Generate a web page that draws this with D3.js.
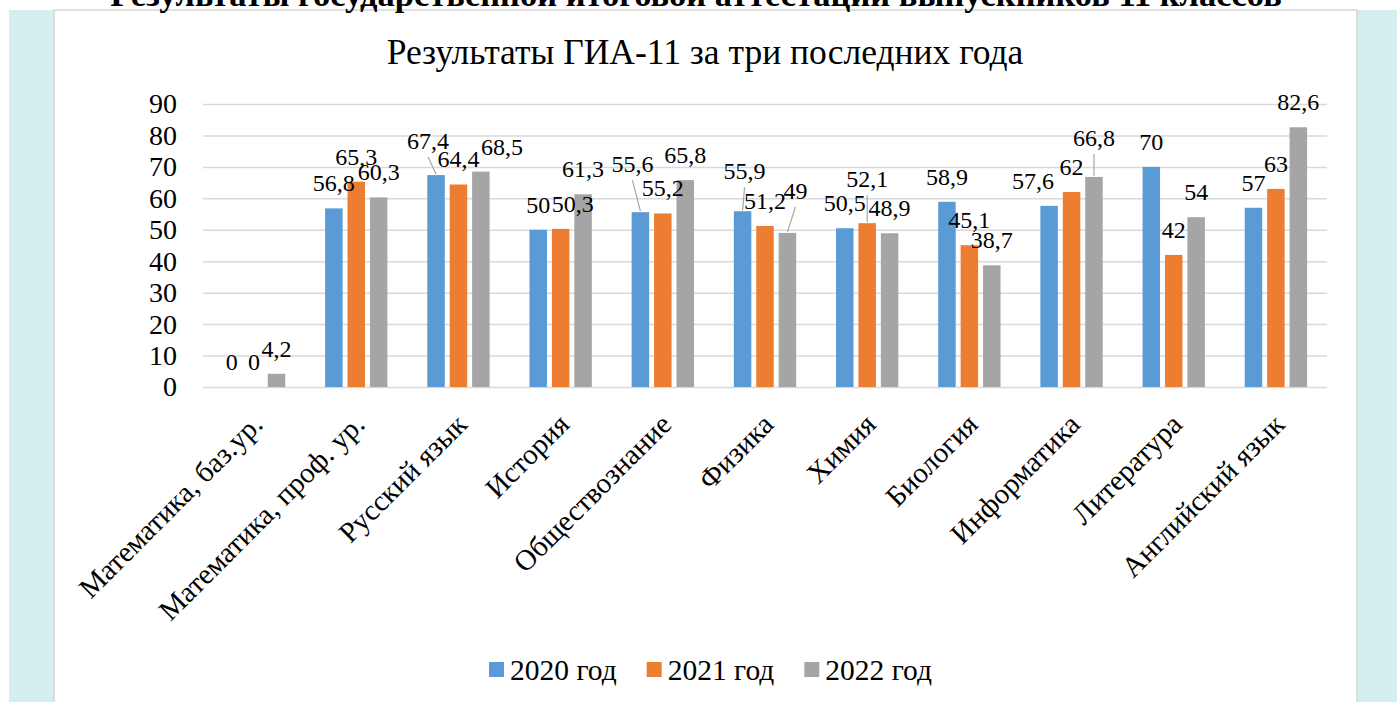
<!DOCTYPE html>
<html>
<head>
<meta charset="utf-8">
<script src="https://cdn.jsdelivr.net/npm/d3@7/dist/d3.min.js"></script>
<style>
  body { margin: 0; background: #fff; }
  svg, svg text { font-family: "Liberation Serif", "DejaVu Serif", serif; }
</style>
</head>
<body>
<div id="chart"></div>
<script>
const categories = ['Математика, баз.ур.', 'Математика, проф. ур.', 'Русский язык', 'История',
  'Обществознание', 'Физика', 'Химия', 'Биология', 'Информатика', 'Литература', 'Английский язык'];
const years = ['2020 год', '2021 год', '2022 год'];
const values2020 = [0, 56.8, 67.4, 50, 55.6, 55.9, 50.5, 58.9, 57.6, 70, 57];
const values2021 = [0, 65.3, 64.4, 50.3, 55.2, 51.2, 52.1, 45.1, 62, 42, 63];
const values2022 = [4.2, 60.3, 68.5, 61.3, 65.8, 49, 48.9, 38.7, 66.8, 54, 82.6];
const yTicks = [0, 10, 20, 30, 40, 50, 60, 70, 80, 90];
const colors = ['#5b9bd5', '#ed7d31', '#a5a5a5'];

// labels that were dragged in the original: [category, series, dx, dy, leader line]
const labelMoves = [
  [2, 0, -8, -9, true], [2, 2, 21, 0, false], [3, 1, 12, 0, false],
  [4, 0, -8, -23, true], [5, 0, 2, -15, true], [5, 2, 8, -17, true],
  [6, 1, 0, -19, true], [8, 0, -16, 0, false], [8, 2, 0, -14, true]
];

let width = 1397;
let height = 702;
let plot = { left: 203, right: 1327, top: 104, bottom: 387 };
let serif = '"Liberation Serif", "DejaVu Serif", serif';

let series = [values2020, values2021, values2022];
let rows = [];
categories.forEach((c, i) => {
  series.forEach((vals, s) => rows.push({ cat: c, i: i, s: s, value: vals[i] }));
});

let fmt = v => String(v).replace('.', ',');

let svg = d3.select('#chart')
  .append('svg')
  .attr('width', width)
  .attr('height', height)
  .style('font-family', serif);

// page frame
svg.append('rect').attr('x', 9).attr('y', 10).attr('width', width - 9).attr('height', height - 10)
  .style('fill', '#d4efee');
svg.append('rect').attr('x', 54).attr('y', 10).attr('width', 1303).attr('height', height)
  .style('fill', '#fff').style('stroke', '#d6d6d6').style('stroke-width', 1.5);

svg.append('text')
  .attr('x', 696).attr('y', 6)
  .attr('text-anchor', 'middle')
  .style('font-size', '34.5px').style('font-weight', 'bold')
  .text('Результаты государственной итоговой аттестации выпускников 11 классов');

svg.append('text')
  .attr('x', 705).attr('y', 64)
  .attr('text-anchor', 'middle')
  .style('font-size', '35.5px')
  .text('Результаты ГИА-11 за три последних года');

let x0 = d3.scaleBand()
  .domain(categories)
  .range([plot.left, plot.right])
  .paddingInner(0.39)
  .paddingOuter(0.195);

let x1 = d3.scaleBand()
  .domain([0, 1, 2])
  .range([0, x0.bandwidth()])
  .paddingInner(0.22);

let y = d3.scaleLinear()
  .domain([0, 90])
  .range([plot.bottom, plot.top]);

// grid + y labels
let yAxis = svg.append('g')
  .attr('transform', 'translate(' + plot.left + ',0)')
  .call(d3.axisLeft(y).tickValues(yTicks).tickSize(-(plot.right - plot.left)).tickPadding(26));
yAxis.attr('font-family', null).attr('font-size', null);
yAxis.select('.domain').remove();
yAxis.selectAll('line').style('stroke', '#d9d9d9').style('stroke-width', 1.5);
yAxis.selectAll('text')
  .style('font-size', '28px')
  .style('font-family', serif)
  .style('fill', '#000');

let barX = d => x0(d.cat) + x1(d.s);
let barMid = d => barX(d) + x1.bandwidth() / 2;

svg.selectAll('rect.bar')
  .data(rows)
  .enter()
  .append('rect')
  .attr('class', 'bar')
  .attr('x', barX)
  .attr('y', d => y(d.value))
  .attr('width', x1.bandwidth())
  .attr('height', d => y(0) - y(d.value))
  .style('fill', d => colors[d.s]);

// data labels
let moveOf = d => labelMoves.find(m => m[0] === d.i && m[1] === d.s) || [d.i, d.s, 0, 0, false];
let labelX = d => barMid(d) + moveOf(d)[2];
let labelCy = d => y(d.value) - 25 + moveOf(d)[3];

svg.selectAll('line.leader')
  .data(rows.filter(d => moveOf(d)[4]))
  .enter()
  .append('line')
  .attr('class', 'leader')
  .attr('x1', labelX)
  .attr('y1', d => labelCy(d) + 16)
  .attr('x2', barMid)
  .attr('y2', d => y(d.value) - 1)
  .style('stroke', '#a6a6a6')
  .style('stroke-width', 1.2);

svg.selectAll('text.value')
  .data(rows)
  .enter()
  .append('text')
  .attr('class', 'value')
  .attr('x', labelX)
  .attr('y', d => labelCy(d) + 8)
  .attr('text-anchor', 'middle')
  .style('font-size', '24px')
  .text(d => fmt(d.value));

// category labels
svg.selectAll('text.cat')
  .data(categories)
  .enter()
  .append('text')
  .attr('class', 'cat')
  .attr('transform', c => 'translate(' + (x0(c) + x0.bandwidth() / 2 + 3) + ',419) rotate(-45)')
  .attr('text-anchor', 'end')
  .attr('dy', '0.35em')
  .style('font-size', '29px')
  .text(c => c);

// legend
let legend = svg.append('g');
let offset = 0;
years.forEach((name, s) => {
  let item = legend.append('g').attr('transform', 'translate(' + offset + ',0)');
  item.append('rect')
    .attr('x', 0).attr('y', 662)
    .attr('width', 15).attr('height', 15)
    .style('fill', colors[s]);
  let t = item.append('text')
    .attr('x', 21).attr('y', 680)
    .style('font-size', '29.5px')
    .text(name);
  offset += 21 + t.node().getComputedTextLength() + 30;
});
let legendWidth = offset - 30;
legend.attr('transform', 'translate(' + (710.5 - legendWidth / 2) + ',0)');
</script>
</body>
</html>
